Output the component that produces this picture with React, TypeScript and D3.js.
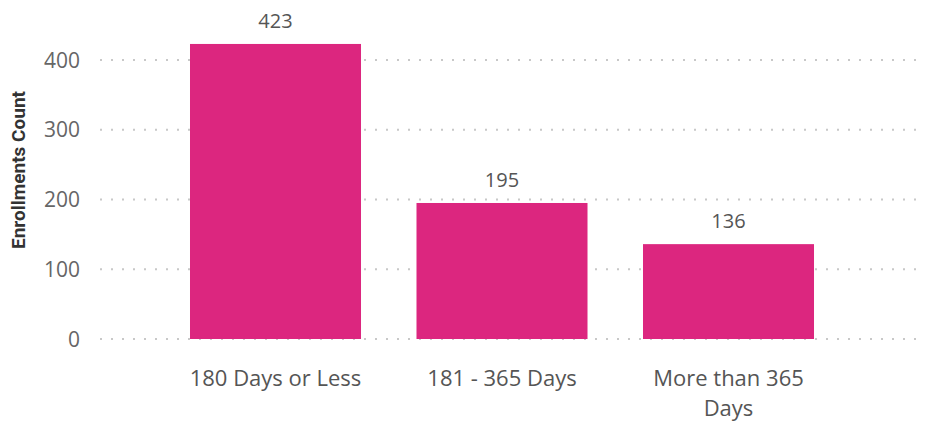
import React, { useEffect, useRef } from "react";
import * as d3 from "d3";

const categories = ["180 Days or Less", "181 - 365 Days", "More than 365 Days"];
const enrollments = [423, 195, 136];
const yTicks = [0, 100, 200, 300, 400];

export default function App() {
  const svgRef = useRef<SVGSVGElement>(null);

  useEffect(() => {
    const width = 926;
    const height = 422;
    const svg = d3.select(svgRef.current).attr("width", width).attr("height", height);
    svg.selectAll("*").remove();

    const yScale = d3.scaleLinear().domain([0, 400]).range([339, 60]);
    const xScale = d3
      .scaleBand()
      .domain(categories)
      .range([162.25, 841.75])
      .paddingInner(0.245)
      .paddingOuter(0.1225);

    // dotted gridlines
    svg
      .append("g")
      .selectAll("line")
      .data(yTicks)
      .join("line")
      .attr("x1", 100)
      .attr("x2", 916)
      .attr("y1", (d) => yScale(d))
      .attr("y2", (d) => yScale(d))
      .attr("stroke", "#c8c8c8")
      .attr("stroke-width", 2)
      .attr("stroke-dasharray", "2,9");

    // y tick labels
    svg
      .append("g")
      .selectAll("text")
      .data(yTicks)
      .join("text")
      .attr("x", 80)
      .attr("y", (d) => yScale(d))
      .attr("dy", "0.36em")
      .attr("text-anchor", "end")
      .attr("font-family", "'Open Sans', sans-serif")
      .attr("font-size", 21)
      .attr("fill", "#666")
      .text((d) => d);

    // y axis title
    svg
      .append("text")
      .attr("transform", "translate(25,170) rotate(-90)")
      .attr("text-anchor", "middle")
      .attr("font-family", "Roboto, sans-serif")
      .attr("font-weight", "bold")
      .attr("font-size", 19)
      .attr("fill", "#333")
      .text("Enrollments Count");

    // bars
    svg
      .append("g")
      .selectAll("rect")
      .data(categories)
      .join("rect")
      .attr("x", (d) => xScale(d)!)
      .attr("width", xScale.bandwidth())
      .attr("y", (d, i) => yScale(enrollments[i]))
      .attr("height", (d, i) => yScale(0) - yScale(enrollments[i]))
      .attr("fill", "#dc267f");

    // value labels
    svg
      .append("g")
      .selectAll("text")
      .data(categories)
      .join("text")
      .attr("x", (d) => xScale(d)! + xScale.bandwidth() / 2)
      .attr("y", (d, i) => yScale(enrollments[i]) - 16)
      .attr("text-anchor", "middle")
      .attr("font-family", "'Open Sans', sans-serif")
      .attr("font-size", 20)
      .attr("fill", "#555")
      .text((d, i) => enrollments[i]);

    // category labels, wrapped
    const wrap: Record<string, string[]> = {
      "More than 365 Days": ["More than 365", "Days"],
    };
    const xLabels = svg
      .append("g")
      .selectAll("text")
      .data(categories)
      .join("text")
      .attr("x", (d) => xScale(d)! + xScale.bandwidth() / 2)
      .attr("y", 386)
      .attr("text-anchor", "middle")
      .attr("font-family", "'Open Sans', sans-serif")
      .attr("font-size", 22)
      .attr("fill", "#555");
    xLabels.each(function (d) {
      const lines = wrap[d] || [d];
      d3.select(this)
        .selectAll("tspan")
        .data(lines)
        .join("tspan")
        .attr("x", xScale(d)! + xScale.bandwidth() / 2)
        .attr("dy", (l, i) => (i === 0 ? 0 : 30))
        .text((l) => l);
    });
  }, []);

  return (
    <div style={{ position: "absolute", left: 0, top: 0 }}>
      <svg ref={svgRef}></svg>
    </div>
  );
}
